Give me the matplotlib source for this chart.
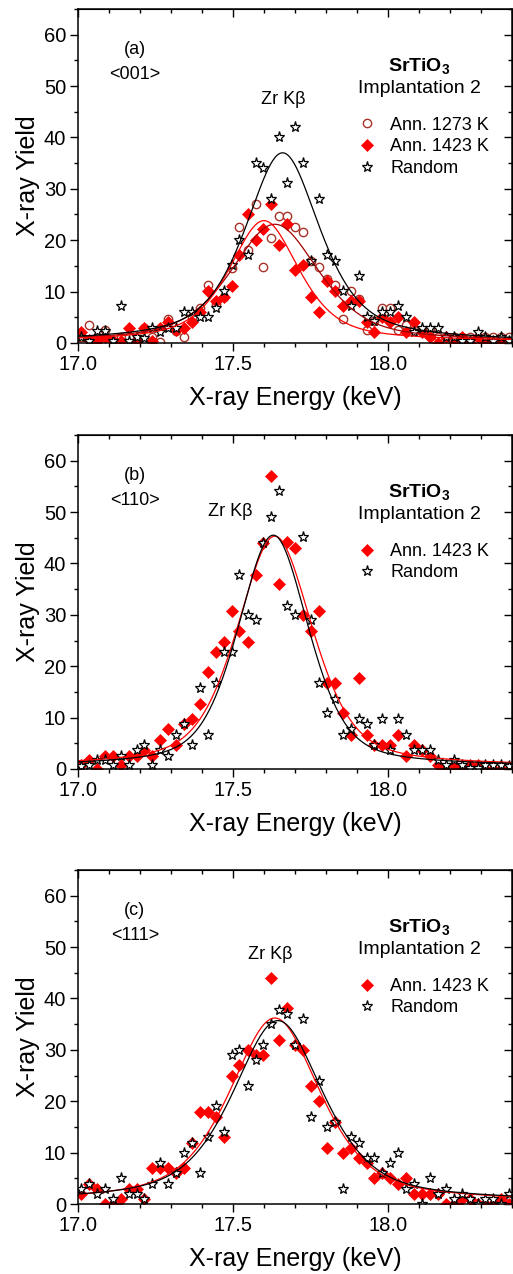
import numpy as np
import matplotlib
matplotlib.use('Agg')
import matplotlib.pyplot as plt
from matplotlib.ticker import MultipleLocator

plt.rcParams['font.family'] = ['Liberation Sans', 'DejaVu Sans']
plt.rcParams['mathtext.fontset'] = 'custom'
plt.rcParams['mathtext.rm'] = 'Liberation Sans'
plt.rcParams['mathtext.bf'] = 'Liberation Sans:bold'

# energy channels (keV), same for every spectrum
energy = [17.010, 17.035, 17.061, 17.087, 17.112, 17.138, 17.163, 17.189, 17.214, 17.240,
          17.266, 17.291, 17.317, 17.342, 17.368, 17.393, 17.419, 17.445, 17.470, 17.496,
          17.521, 17.547, 17.573, 17.598, 17.624, 17.649, 17.675, 17.700, 17.726, 17.752,
          17.777, 17.803, 17.828, 17.854, 17.880, 17.905, 17.931, 17.956, 17.982, 18.007,
          18.033, 18.059, 18.084, 18.110, 18.135, 18.161, 18.186, 18.212, 18.238, 18.263,
          18.289, 18.314, 18.340, 18.365, 18.391]

# (a) <001>
a_1273 = [1.1, 3.4, 1.1, 2.5, 0.3, 1.1, 1.1, 0.3, 3.0, 1.1,
          0.1, 4.7, 2.3, 1.1, 5.0, 6.9, 11.3, 7.5, 9.0, 14.5,
          22.5, 18.1, 27.0, 14.7, 20.4, 24.8, 24.8, 22.5, 21.5, 16.0,
          14.7, 12.5, 11.3, 4.7, 10.2, 8.5, 2.5, 4.3, 6.9, 6.9,
          2.5, 3.5, 2.5, 2.5, 2.5, 1.1, 1.1, 1.1, 1.1, 1.1,
          1.1, 1.1, 1.1, 1.1, 1.1]
a_1423 = [2.1, 0.5, 0.3, 1.1, 0.3, 0.3, 3.0, 0.3, 3.0, 0.3,
          3.0, 4.0, 2.5, 3.0, 4.0, 6.0, 10.1, 8.1, 9.0, 11.1,
          17.1, 25.1, 20.1, 22.1, 27.0, 19.1, 23.1, 14.1, 15.1, 9.0,
          6.1, 12.1, 10.1, 7.1, 8.1, 8.1, 4.0, 2.1, 5.0, 4.0,
          5.0, 2.1, 4.0, 2.1, 1.1, 0.0, 1.1, 0.0, 1.1, 0.0,
          1.1, 0.0, 0.0, 0.0, 0.0]
a_random = [1.1, 0.3, 2.3, 2.3, 0.3, 7.1, 0.3, 1.1, 0.9, 2.9,
            2.2, 2.9, 2.9, 6.0, 6.0, 5.1, 5.1, 6.9, 10.1, 15.1,
            20.1, 17.1, 35.1, 34.0, 28.0, 40.0, 31.1, 42.1, 35.1, 16.0,
            28.0, 17.1, 16.0, 10.1, 7.1, 13.1, 5.1, 4.2, 6.0, 6.0,
            7.1, 5.1, 2.1, 2.9, 2.9, 2.9, 1.1, 1.1, 0.3, 0.3,
            2.1, 1.1, 0.3, 1.1, 0.3]

# (b) <110>
b_1423 = [0.8, 1.8, 0.0, 2.6, 2.6, 0.7, 2.6, 2.6, 3.7, 2.6,
          5.7, 7.8, 4.7, 8.8, 9.7, 12.7, 18.8, 22.7, 24.8, 30.8,
          26.8, 24.8, 37.8, 43.9, 57.0, 35.9, 44.1, 43.0, 29.9, 26.8,
          30.8, 16.8, 16.8, 10.8, 6.7, 17.8, 6.7, 4.7, 4.7, 4.7,
          6.7, 2.6, 4.7, 3.7, 2.6, 0.7, 0.0, 0.7, 0.0, 0.7,
          0.7, 0.0, 0.0, 0.0, 0.0]
b_random = [0.5, 0.8, 1.8, 1.8, 0.7, 2.6, 0.7, 3.7, 4.7, 0.7,
            3.7, 2.6, 6.7, 8.8, 4.7, 15.7, 6.7, 16.7, 22.7, 22.7,
            37.8, 29.9, 28.9, 43.9, 49.0, 54.0, 31.8, 29.9, 45.1, 28.9,
            16.8, 10.8, 13.7, 6.7, 7.8, 9.7, 8.8, 4.7, 9.7, 3.7,
            9.7, 6.7, 3.7, 3.7, 3.7, 1.8, 0.7, 1.8, 0.7, 0.1,
            0.1, 0.7, 0.7, 0.7, 0.5]

# (c) <111>
c_1423 = [2.0, 4.0, 2.9, 0.0, 0.0, 1.0, 2.9, 2.9, 1.0, 7.0,
          7.0, 7.0, 6.1, 7.0, 11.9, 18.0, 18.0, 17.0, 13.0, 25.0,
          27.0, 30.0, 29.0, 29.0, 44.0, 32.0, 38.1, 31.0, 30.0, 23.0,
          20.0, 10.9, 16.0, 10.0, 10.9, 9.0, 8.0, 5.0, 6.1, 5.0,
          4.0, 5.0, 2.0, 2.0, 2.0, 2.0, 0.0, 0.0, 1.0, 1.0,
          0.0, 0.0, 0.0, 1.0, 0.0]
c_random = [2.9, 4.0, 2.0, 2.9, 1.0, 5.0, 2.0, 2.0, 1.0, 4.0,
            8.0, 4.0, 6.1, 10.0, 11.9, 6.1, 13.0, 19.0, 14.0, 29.0,
            30.0, 23.0, 28.0, 31.0, 35.0, 37.7, 37.0, 31.0, 36.0, 17.0,
            24.0, 15.0, 16.0, 2.9, 13.0, 11.9, 9.0, 9.0, 6.1, 8.0,
            10.0, 2.9, 4.0, 0.0, 5.0, 2.0, 2.9, 1.0, 2.0, 1.0,
            0.0, 1.0, 1.0, 0.0, 2.0]

# fitted peak parameters: centre, height, fwhm, lorentz fraction, background
fit_a_1273 = [17.635, 22.8, 0.34, 0.55, 0.3]
fit_a_1423 = [17.600, 23.5, 0.27, 0.60, 0.3]
fit_a_random = [17.660, 36.8, 0.29, 0.65, 0.2]
fit_b_1423 = [17.635, 44.8, 0.29, 0.50, 0.5]
fit_b_random = [17.630, 45.0, 0.27, 0.45, 0.5]
fit_c_1423 = [17.635, 35.8, 0.35, 0.60, 0.4]
fit_c_random = [17.645, 35.2, 0.35, 0.60, 0.5]

DARKRED = '#a83228'
STYLE_1273 = dict(marker='o', ms=6, mfc='white', mec=DARKRED, mew=1.0, ls='none')
STYLE_1423 = dict(marker='D', ms=6, mfc='red', mec='red', mew=0.5, ls='none')
STYLE_RANDOM = dict(marker='*', ms=8, mfc='white', mec='black', mew=0.9, ls='none')


def pvoigt(x, x0, height, fwhm, eta, base):
    """pseudo-Voigt peak on a flat background"""
    u = (x - x0) / fwhm
    g = np.exp(-4 * np.log(2) * u ** 2)
    l = 1.0 / (1 + 4 * u ** 2)
    return base + height * (eta * l + (1 - eta) * g)


def draw_panel(ax, tag, direction, series, fits, zr_xy):
    xfit = np.linspace(17.0, 18.4, 400)
    handles = []
    for values, style, label in series:
        h, = ax.plot(energy, values, label=label, **style)
        handles.append(h)
    for params, color in fits:
        ax.plot(xfit, pvoigt(xfit, *params), color=color, lw=0.9)

    ax.set_xlim(17.0, 18.4)
    ax.set_ylim(0, 65)
    ax.xaxis.set_major_locator(MultipleLocator(0.5))
    ax.xaxis.set_minor_locator(MultipleLocator(0.1))
    ax.yaxis.set_major_locator(MultipleLocator(10))
    ax.yaxis.set_minor_locator(MultipleLocator(5))
    ax.xaxis.set_major_formatter(plt.FormatStrFormatter('%.1f'))
    ax.tick_params(which='both', direction='out', labelsize=14.5, width=1.0)
    ax.tick_params(which='major', length=5.5, pad=3)
    ax.tick_params(which='minor', length=3)
    for sp in ax.spines.values():
        sp.set_linewidth(1.1)

    # mirror ticks pointing inward on top / right
    top = ax.secondary_xaxis('top')
    top.xaxis.set_major_locator(MultipleLocator(0.5))
    top.xaxis.set_minor_locator(MultipleLocator(0.1))
    top.tick_params(which='both', direction='in', labeltop=False, width=1.0)
    top.tick_params(which='major', length=5.5)
    top.tick_params(which='minor', length=3)
    right = ax.secondary_yaxis('right')
    right.yaxis.set_major_locator(MultipleLocator(10))
    right.yaxis.set_minor_locator(MultipleLocator(5))
    right.tick_params(which='both', direction='in', labelright=False, width=1.0)
    right.tick_params(which='major', length=5.5)
    right.tick_params(which='minor', length=3)

    ax.set_xlabel('X-ray Energy (keV)', fontsize=18, labelpad=9)
    ax.set_ylabel('X-ray Yield', fontsize=18, labelpad=3)

    ax.text(0.131, 0.880, tag, transform=ax.transAxes, ha='center', va='center', fontsize=13)
    ax.text(0.131, 0.805, direction, transform=ax.transAxes, ha='center', va='center', fontsize=13)
    ax.text(0.786, 0.830, r'$\mathbf{SrTiO_3}$', transform=ax.transAxes, ha='center', va='center', fontsize=14)
    ax.text(0.786, 0.762, 'Implantation 2', transform=ax.transAxes, ha='center', va='center', fontsize=14)
    ax.text(zr_xy[0], zr_xy[1], 'Zr Kβ', transform=ax.transAxes, ha='center', va='center', fontsize=13)

    ax.legend(handles=handles, loc='upper left', bbox_to_anchor=(0.645, 0.677), frameon=False,
              fontsize=13, handlelength=1.0, handletextpad=0.8, labelspacing=0.25,
              borderpad=0, borderaxespad=0, numpoints=1)


fig = plt.figure(figsize=(5.13, 12.74), dpi=100)
ax_a = fig.add_axes([0.152, 0.7308, 0.846, 0.2622])
ax_b = fig.add_axes([0.152, 0.3964, 0.846, 0.2622])
ax_c = fig.add_axes([0.152, 0.0549, 0.846, 0.2622])

draw_panel(ax_a, '(a)', '<001>',
           [(a_1273, STYLE_1273, 'Ann. 1273 K'),
            (a_1423, STYLE_1423, 'Ann. 1423 K'),
            (a_random, STYLE_RANDOM, 'Random')],
           [(fit_a_1273, '#a00000'), (fit_a_1423, 'red'), (fit_a_random, 'black')],
           (0.472, 0.728))
draw_panel(ax_b, '(b)', '<110>',
           [(b_1423, STYLE_1423, 'Ann. 1423 K'),
            (b_random, STYLE_RANDOM, 'Random')],
           [(fit_b_1423, 'red'), (fit_b_random, 'black')],
           (0.350, 0.772))
draw_panel(ax_c, '(c)', '<111>',
           [(c_1423, STYLE_1423, 'Ann. 1423 K'),
            (c_random, STYLE_RANDOM, 'Random')],
           [(fit_c_1423, 'red'), (fit_c_random, 'black')],
           (0.442, 0.746))

fig.savefig('out.png', dpi=100)
